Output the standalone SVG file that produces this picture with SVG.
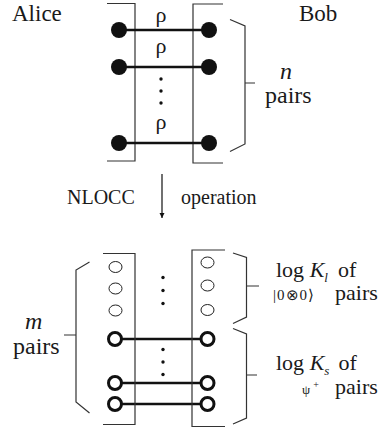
<svg xmlns="http://www.w3.org/2000/svg" width="383" height="431" viewBox="0 0 383 431">
<style>
text{fill:#1a1a1a;font-family:"Liberation Serif","Times New Roman",serif}
.box{fill:none;stroke:#333;stroke-width:1.2}
.brace{fill:none;stroke:#333;stroke-width:1.2}
.link{stroke:#111;stroke-width:2.6}
.dot{fill:#111}
.sm{fill:none;stroke:#222;stroke-width:1}
.bo{fill:#fff;stroke:#111;stroke-width:3}
.lbl{font-size:24px}
.it{font-style:italic}
</style>
<defs>
<marker id="ah" markerWidth="6" markerHeight="6" refX="5" refY="3" orient="auto" markerUnits="userSpaceOnUse">
<path d="M0,0.5 L5,3 L0,5.5 Z" fill="#111"/>
</marker>
</defs>
<g id="labels-top">
<text x="12" y="21" font-size="23">Alice</text>
<text x="299" y="21" font-size="23">Bob</text>
</g>

<g id="alice-box-top"><path class="box" d="M107,3.5 H135 V161 H107"/></g>
<g id="bob-box-top"><path class="box" d="M223,4 H193 V163 H223"/></g>

<g id="connectors">
<line class="link" x1="119" y1="30" x2="209" y2="30"/>
<line class="link" x1="119" y1="67" x2="209" y2="67"/>
<line class="link" x1="119" y1="143" x2="209" y2="143"/>
<line x1="162" y1="174" x2="162" y2="218" stroke="#111" stroke-width="1.2" marker-end="url(#ah)"/>
<line class="link" x1="122" y1="339" x2="200" y2="339"/>
<line class="link" x1="122" y1="383" x2="200" y2="383"/>
<line class="link" x1="122" y1="404" x2="200" y2="404"/>
</g>

<g id="pair1"><circle class="dot" cx="119" cy="30" r="8"/><circle class="dot" cx="209" cy="30" r="8"/><text x="161" y="22" text-anchor="middle" font-size="22">ρ</text></g>
<g id="pair2"><circle class="dot" cx="119" cy="67" r="8"/><circle class="dot" cx="209" cy="67" r="8"/><text x="161" y="53" text-anchor="middle" font-size="22">ρ</text></g>
<g id="dots-top"><circle class="dot" cx="161" cy="79" r="1.7"/><circle class="dot" cx="161" cy="91" r="1.7"/><circle class="dot" cx="161" cy="103" r="1.7"/></g>
<g id="pair3"><circle class="dot" cx="119" cy="143" r="8"/><circle class="dot" cx="209" cy="143" r="8"/><text x="161" y="129" text-anchor="middle" font-size="22">ρ</text></g>

<g id="brace-n"><path class="brace" d="M230,19.5 L245,26 V144 L230,151.5 M245,83 H255"/>
<text x="280" y="79" class="lbl it">n</text><text x="265" y="103" class="lbl">pairs</text></g>

<g id="op-label">
<text x="67" y="204" font-size="20">NLOCC</text>
<text x="181" y="204" font-size="20">operation</text>
</g>

<g id="alice-box-bottom"><path class="box" d="M103,253.5 H135 V424.5 H103"/></g>
<g id="bob-box-bottom"><path class="box" d="M225,250 H192 V426.5 H225"/></g>

<g id="zero-pairs">
<ellipse class="sm" cx="115.5" cy="267" rx="6.5" ry="5.5"/>
<ellipse class="sm" cx="115.5" cy="288.5" rx="6.5" ry="5.5"/>
<ellipse class="sm" cx="115.5" cy="310.5" rx="6.5" ry="5.5"/>
<ellipse class="sm" cx="207.5" cy="262.5" rx="6.5" ry="5.5"/>
<ellipse class="sm" cx="207.5" cy="285.5" rx="6.5" ry="5.5"/>
<ellipse class="sm" cx="207.5" cy="310" rx="6.5" ry="5.5"/>
<circle class="dot" cx="163" cy="277.5" r="1.7"/><circle class="dot" cx="163" cy="290.5" r="1.7"/><circle class="dot" cx="163" cy="303.5" r="1.7"/>
</g>

<g id="psi-pairs">
<circle class="bo" cx="115" cy="339" r="6.5"/><circle class="bo" cx="207.5" cy="339" r="6.5"/>
<circle class="dot" cx="163" cy="349.5" r="1.7"/><circle class="dot" cx="163" cy="362" r="1.7"/><circle class="dot" cx="163" cy="374.5" r="1.7"/>
<circle class="bo" cx="115" cy="383" r="6.5"/><circle class="bo" cx="207.5" cy="383" r="6.5"/>
<circle class="bo" cx="115" cy="404" r="6.5"/><circle class="bo" cx="207.5" cy="404" r="6.5"/>
</g>

<g id="brace-m"><path class="brace" d="M89.5,262 L76,270 V402 L89.5,413 M76,335 H64"/>
<text x="25" y="329" class="lbl it">m</text><text x="13" y="354" class="lbl">pairs</text></g>

<g id="brace-l"><path class="brace" d="M233,253 L246.5,257.5 V317 L233,323.5 M246.5,286 H259"/>
<text x="276" y="277" font-size="22">log <tspan font-style="italic">K</tspan><tspan font-style="italic" font-size="13" dy="5">l</tspan><tspan dy="-5" dx="10">of</tspan></text>
<text x="273" y="300" font-size="15" textLength="41">|0⊗0⟩</text><text x="335" y="300" font-size="22">pairs</text></g>

<g id="brace-s"><path class="brace" d="M233,328.5 L246.5,334 V418 L233,424 M246.5,375 H257"/>
<text x="276" y="370" font-size="22">log <tspan font-style="italic">K</tspan><tspan font-style="italic" font-size="13" dy="5">s</tspan><tspan dy="-5" dx="9">of</tspan></text>
<text x="302" y="394" font-size="13">ψ<tspan font-size="10" dy="-6" dx="3">+</tspan></text><text x="335" y="394" font-size="22">pairs</text></g>
</svg>
